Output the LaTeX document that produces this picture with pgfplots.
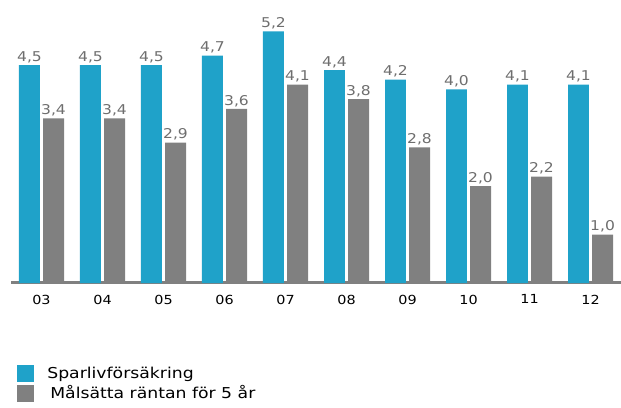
\documentclass[border=0pt]{standalone}
\usepackage{fontspec}
\setmainfont[FakeStretch=1.15]{DejaVu Sans}
\usepackage{pgfplots}
\pgfplotsset{compat=1.18}
\definecolor{cblue}{HTML}{1FA2C9}
\definecolor{cgray}{HTML}{808080}
\definecolor{lblgray}{HTML}{6E6E6E}
\begin{document}
\begin{tikzpicture}[x=1bp,y=1bp]
\useasboundingbox (0,0) rectangle (621,407);
\begin{axis}[
  at={(11bp,124bp)}, anchor=south west,
  scale only axis, width=610bp, height=280.7bp,
  xmin=-0.5, xmax=9.5, ymin=0, ymax=5.8,
  axis line style={draw=none}, tick style={draw=none},
  ytick=\empty,
  xtick={0,1,2,3,4,5,6,7,8,9},
  xticklabels={03,04,05,06,07,08,09,10,11,12},
  xticklabel style={font=\fontsize{12.5bp}{14bp}\selectfont, text=black, yshift=-4bp},
  ybar, bar width=0.344,
  clip=false,
  nodes near coords,
  every node near coord/.append style={font=\fontsize{13.5bp}{15bp}\selectfont, text=lblgray, inner sep=2bp},
  /pgf/number format/assume math mode=true,
  /pgf/number format/use comma,
  /pgf/number format/fixed,
  /pgf/number format/fixed zerofill,
  /pgf/number format/precision=1,
  legend cell align=left,
  legend style={draw=none, fill=none, at={(axis description cs:0.01,-0.29)}, anchor=north west,
    font=\fontsize{15bp}{17bp}\selectfont, row sep=3bp, inner sep=0pt,
    nodes={inner sep=1bp, text=black}},
]
\draw[cgray, line width=3.5bp] (axis cs:-0.5,0.01) -- (axis cs:9.5,0.01);
\addplot[fill=cblue, draw=none, bar shift=-0.197,
  legend image code/.code={\fill[cblue] (0bp,-8.5bp) rectangle (17bp,8.5bp);}]
  coordinates {(0,4.5) (1,4.5) (2,4.5) (3,4.7) (4,5.2) (5,4.4) (6,4.2) (7,4.0) (8,4.1) (9,4.1)};
\addlegendentry{\hspace{12bp}Sparlivförsäkring}
\addplot[fill=cgray, draw=none, bar shift=0.197,
  legend image code/.code={\fill[cgray] (0bp,-8.5bp) rectangle (17bp,8.5bp);}]
  coordinates {(0,3.4) (1,3.4) (2,2.9) (3,3.6) (4,4.1) (5,3.8) (6,2.8) (7,2.0) (8,2.2) (9,1.0)};
\addlegendentry{\hspace{15bp}Målsätta räntan för 5 år}
\end{axis}
\end{tikzpicture}
\end{document}
